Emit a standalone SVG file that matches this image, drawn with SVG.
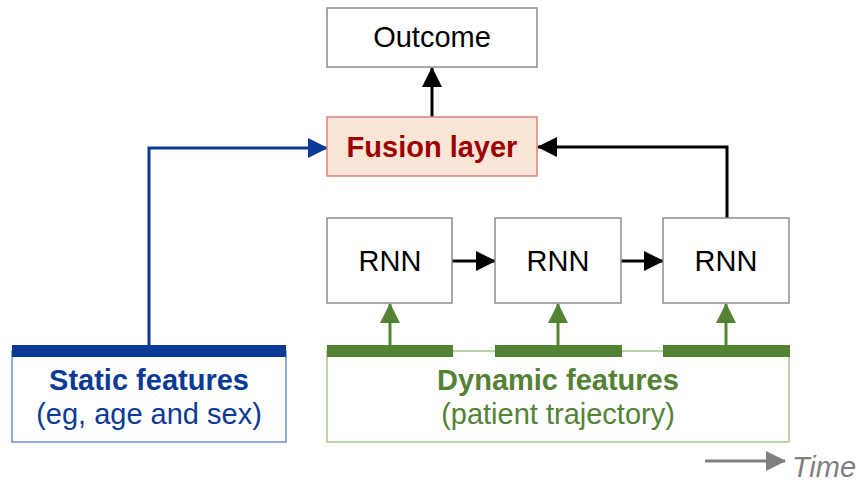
<svg xmlns="http://www.w3.org/2000/svg" width="858" height="482" viewBox="0 0 858 482">
<style>
text{font-family:"Liberation Sans",Arial,sans-serif;font-size:29px;text-anchor:middle}
.box{fill:#fff;stroke:#8c8c8c;stroke-width:1.5}
.bk{stroke:#000;stroke-width:3;fill:none}
.gr{stroke:#548235;stroke-width:3;fill:none}
.bl{stroke:#0a3a96;stroke-width:3;fill:none}
</style>
<defs>
<marker id="ak" markerWidth="20" markerHeight="20" refX="19" refY="10" orient="auto" markerUnits="userSpaceOnUse" viewBox="0 0 20 20"><path d="M0,0L20,10L0,20z" fill="#000"/></marker>
<marker id="ag" markerWidth="20" markerHeight="20" refX="19" refY="10" orient="auto" markerUnits="userSpaceOnUse" viewBox="0 0 20 20"><path d="M0,0L20,10L0,20z" fill="#548235"/></marker>
<marker id="ablue" markerWidth="20" markerHeight="20" refX="19" refY="10" orient="auto" markerUnits="userSpaceOnUse" viewBox="0 0 20 20"><path d="M0,0L20,10L0,20z" fill="#0a3a96"/></marker>
<marker id="agray" markerWidth="20" markerHeight="20" refX="19" refY="10" orient="auto" markerUnits="userSpaceOnUse" viewBox="0 0 20 20"><path d="M0,0L20,10L0,20z" fill="#7f7f7f"/></marker>
</defs>
<g id="connectors">
<line class="bk" x1="432" y1="117" x2="432" y2="68" marker-end="url(#ak)"/>
<polyline class="bk" points="727,218 727,147 538,147" marker-end="url(#ak)"/>
<line class="bk" x1="452" y1="261" x2="495" y2="261" marker-end="url(#ak)"/>
<line class="bk" x1="621" y1="261" x2="663" y2="261" marker-end="url(#ak)"/>
<polyline class="bl" points="149,345 149,148 327,148" marker-end="url(#ablue)"/>
<line class="gr" x1="390" y1="345" x2="390" y2="304" marker-end="url(#ag)"/>
<line class="gr" x1="558" y1="345" x2="558" y2="304" marker-end="url(#ag)"/>
<line class="gr" x1="726" y1="345" x2="726" y2="304" marker-end="url(#ag)"/>
</g>
<g id="outcome">
<rect class="box" x="327" y="8" width="210" height="59"/>
<text x="432" y="47">Outcome</text>
</g>
<g id="fusion">
<rect x="327" y="117" width="210" height="59" fill="#fbe5d6" stroke="#d9847e" stroke-width="1.5"/>
<text x="432" y="157" font-weight="bold" fill="#9c0000">Fusion layer</text>
</g>
<g id="rnn1">
<rect class="box" x="327" y="218" width="125" height="85"/>
<text x="390" y="271">RNN</text>
</g>
<g id="rnn2">
<rect class="box" x="495" y="218" width="126" height="85"/>
<text x="558" y="271">RNN</text>
</g>
<g id="rnn3">
<rect class="box" x="663" y="218" width="126" height="85"/>
<text x="726" y="271">RNN</text>
</g>
<g id="static">
<rect x="12" y="351" width="274" height="91" fill="#fff" stroke="#6d8fd0" stroke-width="1.5"/>
<rect x="12" y="345" width="274" height="12" fill="#0a3a96"/>
<text x="149" y="390" font-weight="bold" fill="#0a3a96">Static features</text>
<text x="149" y="424" fill="#0a3a96">(eg, age and sex)</text>
</g>
<g id="dynamic">
<rect x="327" y="351" width="462" height="91" fill="#fff" stroke="#a9c38f" stroke-width="1.5"/>
<rect x="327" y="345" width="126" height="12" fill="#548235"/>
<rect x="495" y="345" width="127" height="12" fill="#548235"/>
<rect x="663" y="345" width="127" height="12" fill="#548235"/>
<text x="558" y="390" font-weight="bold" fill="#548235">Dynamic features</text>
<text x="558" y="424" fill="#548235">(patient trajectory)</text>
</g>
<g id="time">
<line x1="705" y1="461" x2="785" y2="461" stroke="#7f7f7f" stroke-width="3" marker-end="url(#agray)"/>
<text x="824" y="477" font-style="italic" font-size="25" fill="#7f7f7f">Time</text>
</g>
</svg>
